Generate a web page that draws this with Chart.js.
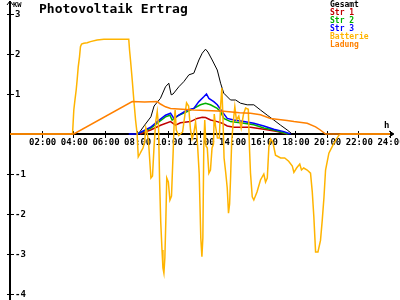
<!DOCTYPE html>
<html>
<head>
<meta charset="utf-8">
<script src="https://cdn.jsdelivr.net/npm/chart.js@4.4.1/dist/chart.umd.min.js"></script>
<style>
html, body { margin: 0; padding: 0; background: #fff; }
</style>
</head>
<body>
<canvas id="myChart" width="400" height="300"></canvas>
<script>
// series names and colours (legend order)
const seriesNames = ['Gesamt', 'Str 1', 'Str 2', 'Str 3', 'Batterie', 'Ladung'];
const seriesColors = ['#000000', '#c00000', '#00b000', '#0000ff', '#ffb400', '#ff8000'];

// axis ticks
const hourTicks = [2, 4, 6, 8, 10, 12, 14, 16, 18, 20, 22, 24];
const hourLabels = ['02:00', '04:00', '06:00', '08:00', '10:00', '12:00', '14:00', '16:00', '18:00', '20:00', '22:00', '24:00'];
const kwTicks = [-4, -3, -2, -1, 1, 2, 3];
const kwLabels = ['-4', '-3', '-2', '-1', '1', '2', '3'];

// Gesamt
const gesamtHours = [8.1, 8.5, 8.9, 9.1, 9.5, 9.82, 10.03, 10.18, 10.3, 10.66, 10.98, 11.3, 11.61, 11.93, 12.14, 12.35, 12.5, 12.77, 13.09, 13.3, 13.5, 13.93, 14.25, 14.56, 14.98, 15.4, 15.82, 16.25, 16.66, 17.09, 17.51, 17.82];
const gesamtKW = [0, 0.22, 0.43, 0.7, 0.89, 1.18, 1.27, 0.98, 1.0, 1.18, 1.31, 1.48, 1.52, 1.85, 2.02, 2.12, 2.05, 1.85, 1.6, 1.27, 1.02, 0.85, 0.85, 0.77, 0.73, 0.73, 0.6, 0.47, 0.35, 0.22, 0.1, 0];

// Str 1
const str1Hours = [8.2, 8.88, 9.51, 10.14, 10.45, 10.77, 11.4, 11.82, 12.14, 12.35, 12.67, 13.09, 13.4, 13.72, 14.14, 15.19, 16.03, 16.88, 17.5];
const str1KW = [0, 0.1, 0.22, 0.31, 0.22, 0.28, 0.31, 0.39, 0.42, 0.41, 0.35, 0.31, 0.27, 0.2, 0.17, 0.17, 0.12, 0.06, 0];

// Str 2
const str2Hours = [8.0, 8.88, 9.3, 9.82, 10.1, 10.24, 10.66, 11.19, 11.61, 12.03, 12.35, 12.66, 13.09, 13.3, 13.5, 13.93, 14.77, 15.4, 16.03, 16.66, 17.3, 17.6];
const str2KW = [0, 0.14, 0.27, 0.43, 0.47, 0.35, 0.47, 0.56, 0.64, 0.73, 0.77, 0.73, 0.64, 0.56, 0.39, 0.31, 0.27, 0.23, 0.15, 0.1, 0.03, 0];

// Str 3
const str3Hours = [7.5, 8.05, 8.88, 9.3, 9.82, 10.14, 10.35, 10.66, 11.19, 11.61, 11.93, 12.24, 12.41, 12.56, 12.87, 13.09, 13.4, 13.72, 14.14, 14.77, 15.4, 16.03, 16.66, 17.3, 17.72];
const str3KW = [0, 0, 0.17, 0.31, 0.47, 0.52, 0.39, 0.47, 0.6, 0.64, 0.81, 0.93, 1.0, 0.89, 0.81, 0.73, 0.56, 0.39, 0.35, 0.31, 0.27, 0.2, 0.12, 0.06, 0];

// Batterie
const batterieHours = [0, 3.95, 4.03, 4.09, 4.18, 4.24, 4.31, 4.39, 4.45, 4.52, 4.66, 4.88, 5.08, 5.5, 5.93, 7.5, 7.55, 7.61, 7.72, 7.82, 7.93, 8.03,
  8.1, 8.2, 8.3, 8.4, 8.5, 8.58, 8.65, 8.75, 8.9, 9.0, 9.1, 9.2, 9.3, 9.38, 9.45, 9.52, 9.6, 9.66, 9.72, 9.78, 9.84, 9.9, 10.0, 10.1, 10.2, 10.3,
  10.37, 10.43, 10.5, 10.65, 10.9, 11.15, 11.28, 11.4, 11.5, 11.62, 11.72, 11.82, 11.95, 12.05, 12.12, 12.18, 12.24, 12.3, 12.38, 12.46, 12.56,
  12.66, 12.76, 12.85, 12.9, 12.98, 13.1, 13.22, 13.3, 13.38, 13.45, 13.52, 13.62, 13.72, 13.8, 13.87, 13.93, 14.0, 14.1, 14.2, 14.3, 14.45,
  14.6, 14.75, 14.88, 15.05, 15.12, 15.19, 15.3, 15.4, 15.6, 15.82, 16.03, 16.14, 16.25, 16.35, 16.46, 16.6, 16.77, 17.09, 17.35, 17.6, 17.83,
  17.93, 18.1, 18.3, 18.41, 18.55, 18.77, 18.98, 19.09, 19.19, 19.3, 19.45, 19.61, 19.72, 19.83, 19.93, 20.14, 20.46, 20.77, 20.9, 24];
const batterieKW = [0, 0, 0.6, 0.81, 1.1, 1.35, 1.68, 1.93, 2.18, 2.25, 2.27, 2.28, 2.31, 2.35, 2.37, 2.37, 2.1, 1.85, 1.35, 0.85, 0.35, 0,
  -0.57, -0.5, -0.42, -0.35, -0.2, 0.15, 0.05, -0.2, -1.1, -1.05, -0.3, 0.3, 0.56, 0.2, -1.2, -2.2, -2.9, -3.35, -3.48, -3.1, -2.2, -1.1, -1.2, -1.65, -1.55, -0.5,
  0.3, 0.6, 0.1, -0.04, 0.05, 0.78, 0.7, 0.1, -0.12, 0.05, 0.3, -0.1, -1.0, -2.6, -3.07, -2.6, -0.3, 0.35, -0.3, -0.35, -0.98,
  -0.9, -0.35, -0.25, 0.5, 0.2, -0.1, -0.1, 0.7, 1.15, 0.4, -0.6, -0.95, -1.35, -1.98, -1.75, -1.1, -0.2, 0.3, 0.68, 0.35, 0.45,
  0.15, 0.5, 0.65, 0.62, -0.3, -0.98, -1.57, -1.65, -1.45, -1.15, -1.0, -1.2, -1.1, -0.32, -0.12, -0.2, -0.53, -0.6, -0.6, -0.68, -0.8,
  -0.96, -0.85, -0.75, -0.9, -0.85, -0.9, -0.98, -1.44, -2.07, -2.95, -2.95, -2.66, -2.16, -1.58, -0.9, -0.48, -0.23, -0.03, 0, 0];

// Ladung
const ladungHours = [0, 4.03, 7.72, 8.5, 9.3, 9.5, 9.82, 10.14, 11.61, 13.5, 14.5, 15.19, 15.82, 16.45, 17.5, 17.93, 18.77, 19.3, 19.6, 19.93, 24];
const ladungKW = [0, 0, 0.81, 0.8, 0.81, 0.75, 0.68, 0.64, 0.6, 0.57, 0.53, 0.52, 0.48, 0.39, 0.34, 0.31, 0.27, 0.18, 0.1, 0, 0];

function toPoints(hours, values) {
    return hours.map((h, i) => ({ x: h, y: values[i] }));
}

const seriesData = [
    toPoints(gesamtHours, gesamtKW),
    toPoints(str1Hours, str1KW),
    toPoints(str2Hours, str2KW),
    toPoints(str3Hours, str3KW),
    toPoints(batterieHours, batterieKW),
    toPoints(ladungHours, ladungKW)
];
const lineWidths = [1, 1.5, 1.5, 1.5, 1.5, 1.5];
const drawOrder = [5, 4, 3, 2, 1, 0]; // Ladung on top

const monoFont = '"DejaVu Sans Mono", "Liberation Mono", monospace';

// axes, title and legend drawn by hand, placed through the chart scales
const pvAxes = {
    id: 'pvAxes',
    beforeDatasetsDraw(chart) {
        const ctx = chart.ctx;
        const x = chart.scales.x;
        const y = chart.scales.y;
        const x0 = Math.round(x.getPixelForValue(0));
        const y0 = Math.round(y.getPixelForValue(0));
        ctx.save();
        ctx.strokeStyle = '#000';
        ctx.fillStyle = '#000';
        ctx.lineWidth = 2;
        ctx.beginPath();
        ctx.moveTo(x0, 300);
        ctx.lineTo(x0, 1);
        ctx.moveTo(x0, y0);
        ctx.lineTo(393, y0);
        ctx.stroke();
        // arrows
        ctx.lineWidth = 1;
        ctx.beginPath();
        ctx.moveTo(x0 - 3, 5); ctx.lineTo(x0, 1); ctx.lineTo(x0 + 3, 5);
        ctx.moveTo(389, y0 - 3); ctx.lineTo(394, y0); ctx.lineTo(389, y0 + 3);
        ctx.stroke();
        // ticks
        ctx.beginPath();
        hourTicks.forEach(h => {
            const px = Math.round(x.getPixelForValue(h)) + 0.5;
            ctx.moveTo(px, y0 - 3); ctx.lineTo(px, y0 + 4);
        });
        kwTicks.forEach(v => {
            const py = Math.round(y.getPixelForValue(v)) + 0.5;
            ctx.moveTo(x0 - 3, py); ctx.lineTo(x0 + 4, py);
        });
        ctx.stroke();
        // tick labels
        ctx.font = 'bold 9px ' + monoFont;
        ctx.textAlign = 'center';
        ctx.textBaseline = 'top';
        hourTicks.forEach((h, i) => {
            ctx.fillText(hourLabels[i], x.getPixelForValue(h) + 1, y0 + 4);
        });
        ctx.textAlign = 'left';
        ctx.textBaseline = 'middle';
        kwTicks.forEach((v, i) => {
            ctx.fillText(kwLabels[i], x0 + 5, y.getPixelForValue(v) + 1);
        });
        // unit labels
        ctx.font = 'bold 7px ' + monoFont;
        ctx.fillText('KW', x0 + 3, 5);
        ctx.font = 'bold 9px ' + monoFont;
        ctx.fillText('h', 384, y0 - 8);
        ctx.restore();
    },
    afterDraw(chart) {
        const ctx = chart.ctx;
        ctx.save();
        ctx.fillStyle = '#000';
        ctx.font = 'bold 13px ' + monoFont;
        ctx.textAlign = 'left';
        ctx.textBaseline = 'alphabetic';
        ctx.fillText('Photovoltaik Ertrag', 39, 13);
        ctx.font = 'bold 8px ' + monoFont;
        ctx.textBaseline = 'middle';
        seriesNames.forEach((name, i) => {
            ctx.fillStyle = seriesColors[i];
            ctx.fillText(name, 330, 5 + i * 7.9);
        });
        ctx.restore();
    }
};

const ctx = document.getElementById('myChart').getContext('2d');
const myChart = new Chart(ctx, {
    type: 'line',
    data: {
        datasets: seriesNames.map((name, i) => ({
            label: name,
            data: seriesData[i],
            borderColor: seriesColors[i],
            borderWidth: lineWidths[i],
            pointRadius: 0,
            tension: 0,
            fill: false,
            order: drawOrder[i]
        }))
    },
    options: {
        responsive: false,
        animation: false,
        devicePixelRatio: 1,
        layout: { padding: { left: 10, right: 10, top: 14, bottom: 6 } },
        plugins: {
            legend: { display: false },
            tooltip: { enabled: false }
        },
        scales: {
            x: { type: 'linear', min: 0, max: 24, display: false },
            y: { type: 'linear', min: -4, max: 3, display: false }
        }
    },
    plugins: [pvAxes]
});
</script>
</body>
</html>
